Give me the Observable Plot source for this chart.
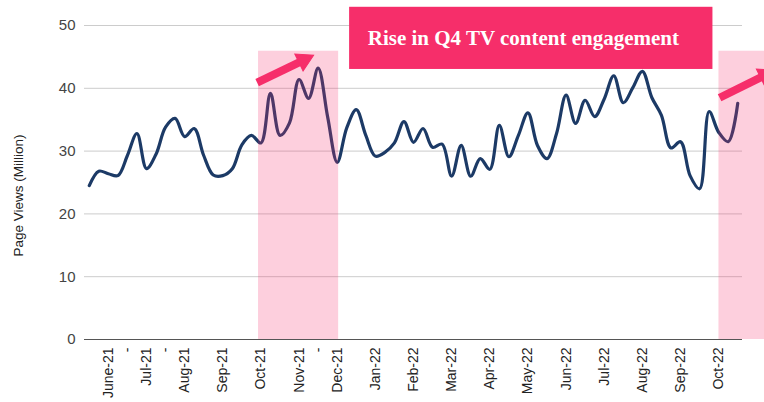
<!DOCTYPE html>
<html>
<head>
<meta charset="utf-8">
<script src="https://cdn.jsdelivr.net/npm/d3@7"></script>
<script src="https://cdn.jsdelivr.net/npm/@observablehq/plot@0.6"></script>
<style>
  html, body { margin: 0; padding: 0; background: #fff; overflow: hidden; }
</style>
</head>
<body>
<div id="chart"></div>
<script>
// Weekly page views (million), one value per category index 0..68
const pageViews = [
  24.5, 26.8, 26.4, 26.1, 29.3, 32.8, 27.2, 29.5, 33.8, 35.2,
  32.3, 33.6, 29.3, 26.2, 26.1, 27.2, 31.0, 32.5, 31.3, 39.2,
  32.5, 34.5, 41.4, 38.4, 43.2, 35.4, 28.2, 33.7, 36.6, 32.5,
  29.2, 29.8, 31.3, 34.7, 31.4, 33.6, 30.6, 31.1, 26.0, 30.9,
  26.0, 28.8, 27.1, 34.1, 29.1, 32.5, 36.1, 30.9, 28.8, 32.8,
  38.9, 34.4, 38.1, 35.5, 38.3, 42.0, 37.7, 40.1, 42.7, 38.5,
  35.7, 30.5, 31.5, 26.1, 24.0, 36.3, 33.0, 31.5, 37.6
];

// Category axis labels (shown every 2nd category)
const tickIndex  = [2, 4, 6, 8, 10, 14, 18, 22, 24, 26, 30, 34, 38, 42, 46, 50, 54, 58, 62, 66];
const tickLabels = ["June-21", "-", "Jul-21", "-", "Aug-21", "Sep-21", "Oct-21", "Nov-21", "-", "Dec-21",
                    "Jan-22", "Feb-22", "Mar-22", "Apr-22", "May-22", "Jun-22", "Jul-22", "Aug-22", "Sep-22", "Oct-22"];

const yTicks = [0, 10, 20, 30, 40, 50];

// Highlighted Q4 periods (category index range, value top)
const bandStart = [17.75, 66.03];
const bandEnd   = [26.15, 71.5];
const bandTop   = [45.9, 45.9];

// Arrows (tail -> head) in data units
const arrowX1 = [17.6, 66.1];
const arrowY1 = [40.9, 38.5];
const arrowX2 = [22.5, 70.9];
const arrowY2 = [44.5, 42.1];

// Annotation box
const noteText = ["Rise in Q4 TV content engagement"];
const noteBoxX = [27.3, 65.4];
const noteBoxY = [43.0, 52.9];
const noteTextX = [29.2];
const noteTextY = [48.0];

const yLabel = "Page Views (Million)";

const series = pageViews.map((v, i) => ({i, v}));
const bands = bandStart.map((s, k) => ({x1: s, x2: bandEnd[k], y2: bandTop[k]}));
const arrows = arrowX1.map((x, k) => ({x1: x, y1: arrowY1[k], x2: arrowX2[k], y2: arrowY2[k]}));
const labelMap = new Map(tickIndex.map((t, k) => [t, tickLabels[k]]));

const pink = "#f62e6a";

const chart = Plot.plot({
  width: 764,
  height: 402,
  marginLeft: 84,
  marginRight: 22,
  marginTop: 25,
  marginBottom: 63,
  style: {fontFamily: "Liberation Sans, Arial, sans-serif", background: "#fff", overflow: "hidden"},
  x: {domain: [-0.5, 68.5], axis: null},
  y: {domain: [0, 50], axis: null},
  marks: [
    Plot.ruleY(yTicks.filter(d => d > 0), {stroke: "#cccccc", strokeWidth: 1}),
    Plot.axisY(yTicks, {tickSize: 0, tickPadding: 9, fontSize: 15, fill: "#444", label: null}),
    Plot.axisX(tickIndex, {
      tickSize: 0, tickPadding: 8, tickRotate: -90, fontSize: 14, fill: "#222", label: null,
      tickFormat: d => labelMap.get(d)
    }),
    Plot.line(series, {x: "i", y: "v", stroke: "#1c3a66", strokeWidth: 3.2, curve: "catmull-rom"}),
    Plot.rect(bands, {x1: "x1", x2: "x2", y1: 0, y2: "y2", fill: pink, fillOpacity: 0.23, clip: false}),
    Plot.ruleY([0], {stroke: "#555", strokeWidth: 1.2}),
    Plot.link(arrows, {x1: "x1", y1: "y1", x2: "x2", y2: "y2", stroke: pink, strokeWidth: 8}),
    Plot.dot(arrows, {x: "x2", y: "y2", symbol: "triangle", r: 7, fill: pink, stroke: pink, strokeWidth: 1, rotate: 64}),
    Plot.rect([0], {x1: noteBoxX[0], x2: noteBoxX[1], y1: noteBoxY[0], y2: noteBoxY[1], fill: pink, clip: false}),
    Plot.text(noteText, {
      x: noteTextX, y: noteTextY, text: d => d, textAnchor: "start", lineAnchor: "middle",
      fill: "#fff", fontSize: 21, fontWeight: "bold", fontFamily: "Liberation Serif, serif"
    }),
    Plot.text([yLabel], {
      frameAnchor: "left", textAnchor: "middle", text: d => d, rotate: -90, dx: -66, dy: 13, fontSize: 13.5, fill: "#222"
    })
  ]
});

document.getElementById("chart").appendChild(chart);
</script>
</body>
</html>
